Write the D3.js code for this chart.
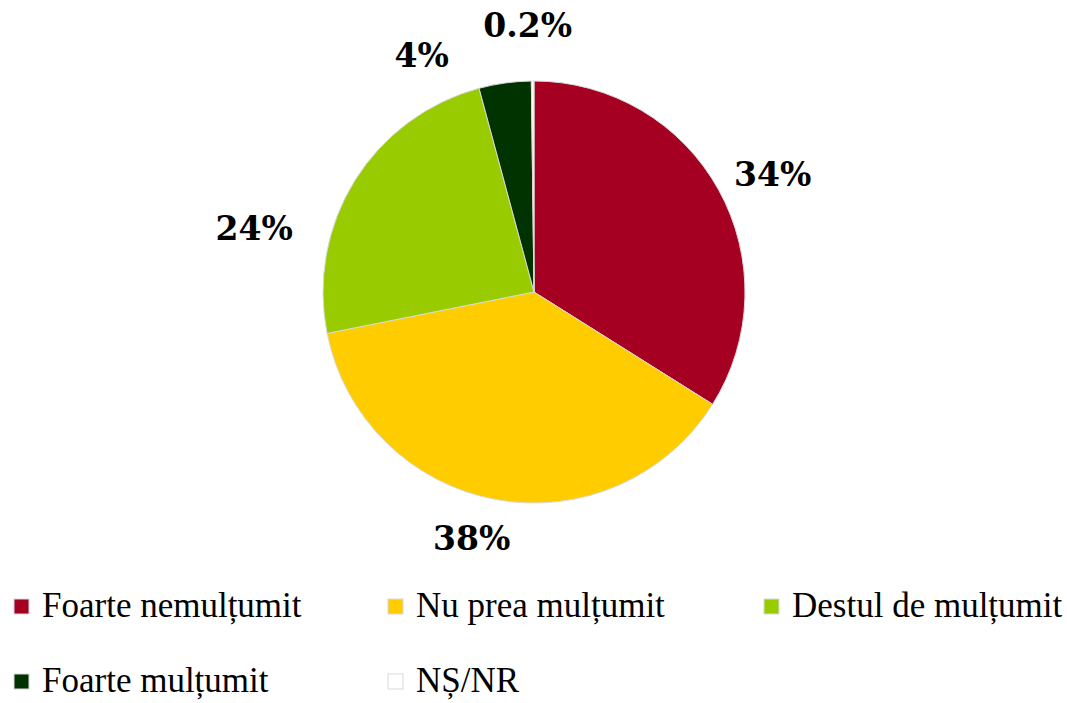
<!DOCTYPE html>
<html><head><meta charset="utf-8">
<script src="https://cdn.jsdelivr.net/npm/d3@7"></script>
<style>body{margin:0;background:#fff}svg{display:block}</style>
</head><body>
<svg id="c" width="1067" height="703"></svg>
<script>
const categories = ["Foarte nemulțumit", "Nu prea mulțumit", "Destul de mulțumit", "Foarte mulțumit", "NȘ/NR"];
const values = [34, 38, 24, 4, 0.2];
const labels = ["34%", "38%", "24%", "4%", "0.2%"];
const colors = ["#A50021", "#FFCC00", "#99CC00", "#003300", "#FFFFFF"];

// label layout tweaks (degrees offset from slice middle, radius)
const labelShift = [2.7, 3.8, -19, -17.5, -1];
const labelRadius = [266, 254, 287, 262, 267];

const svg = d3.select("#c");
const cx = 534, cy = 292, R = 211;
const g = svg.append("g").attr("transform", `translate(${cx},${cy})`);

const pie = d3.pie().sort(null).value(d => d);
const arcs = pie(values);
const arc = d3.arc().innerRadius(0).outerRadius(R);

g.selectAll("path").data(arcs).enter().append("path")
  .attr("d", arc)
  .attr("fill", (d, i) => colors[i])
  .attr("stroke", "#d9d9d9")
  .attr("stroke-width", 1);

g.selectAll("text.lbl").data(arcs).enter().append("text")
  .attr("class", "lbl")
  .attr("x", (d, i) => { const a = (d.startAngle + d.endAngle) / 2 + labelShift[i] * Math.PI / 180; return Math.sin(a) * labelRadius[i]; })
  .attr("y", (d, i) => { const a = (d.startAngle + d.endAngle) / 2 + labelShift[i] * Math.PI / 180; return -Math.cos(a) * labelRadius[i]; })
  .attr("text-anchor", "middle")
  .attr("dominant-baseline", "central")
  .style("font-family", "'DejaVu Serif', serif")
  .style("font-weight", "bold")
  .style("font-size", "33px")
  .attr("fill", "#000")
  .text((d, i) => labels[i]);

// legend
const colX = [14, 388, 764];
const rowY = [617, 692];
const lg = svg.append("g");
const items = lg.selectAll("g").data(categories).enter().append("g")
  .attr("transform", (d, i) => `translate(${colX[i % 3]},${rowY[Math.floor(i / 3)]})`);
items.append("rect")
  .attr("x", 0).attr("y", -18).attr("width", 15).attr("height", 15)
  .attr("fill", (d, i) => colors[i])
  .attr("stroke", "#d9d9d9").attr("stroke-width", 1);
items.append("text")
  .attr("x", 28).attr("y", 0)
  .style("font-family", "'Liberation Serif', serif")
  .style("font-size", "35px")
  .attr("fill", "#000")
  .text(d => d);
</script>
</body></html>
